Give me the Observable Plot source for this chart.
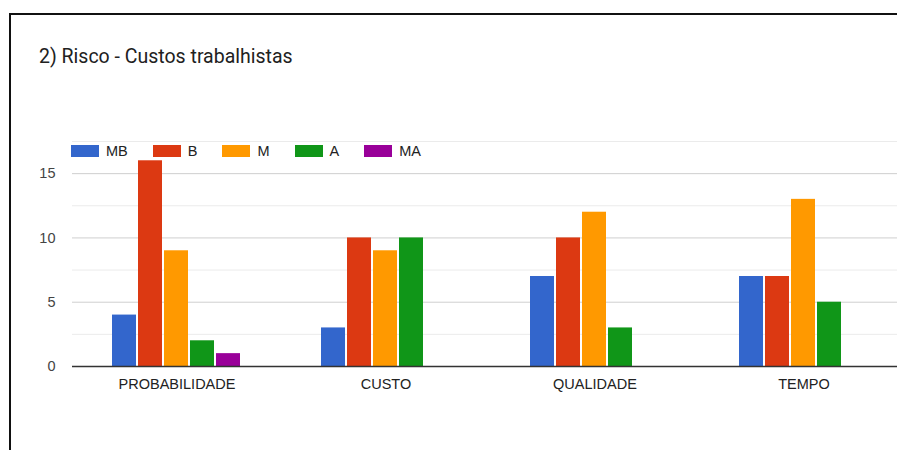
<!DOCTYPE html>
<html><head><meta charset="utf-8">
<script src="https://cdn.jsdelivr.net/npm/d3@7"></script>
<script src="https://cdn.jsdelivr.net/npm/@observablehq/plot@0.6"></script>
<style>
html,body{margin:0;padding:0;background:#fff;overflow:hidden;width:897px;height:450px}
#wrap{position:absolute;left:0;top:0;width:897px;height:450px;overflow:hidden}
#chart{position:absolute;left:0;top:0;width:897px;height:450px;overflow:hidden}
#frame{position:absolute;left:9px;top:13px;width:888px;height:437px;border-top:2px solid #111;border-left:2px solid #111;box-sizing:border-box;pointer-events:none}
#title{position:absolute;left:39px;top:45px;font-family:Roboto,sans-serif;font-size:19.5px;line-height:23px;color:#212121;white-space:nowrap}
#legend{position:absolute;left:71px;top:144px;height:13px;display:flex;align-items:center;font-family:"Liberation Sans",Arial,sans-serif;font-size:14.5px;color:#222}
#legend .item{display:flex;align-items:center;margin-right:25px}
#legend .sw{width:28px;height:12px;margin-right:7px}
</style></head>
<body>
<div id="wrap">
<div id="chart"></div>
<div id="title"></div>
<div id="legend"></div>
<div id="frame"></div>
</div>
<script>
const title = "2) Risco - Custos trabalhistas";
const categories = ["PROBABILIDADE", "CUSTO", "QUALIDADE", "TEMPO"];
const series = ["MB", "B", "M", "A", "MA"];
const colors = ["#3366cc", "#dc3912", "#ff9900", "#109618", "#990099"];
const MB = [4, 3, 7, 7];
const B  = [16, 10, 10, 7];
const M  = [9, 9, 12, 13];
const A  = [2, 10, 3, 5];
const MA = [1, 0, 0, 0];
const yTicks = [0, 5, 10, 15];
const majorGrid = [5, 10, 15];
const minorGrid = [2.5, 7.5, 12.5, 17.5];

const valuesBySeries = {MB, B, M, A, MA};
const rows = [];
categories.forEach((c, i) => series.forEach(s => {
  rows.push({category: c, series: s, value: valuesBySeries[s][i]});
}));

document.getElementById("title").textContent = title;
const legend = document.getElementById("legend");
series.forEach((s, i) => {
  const it = document.createElement("div"); it.className = "item";
  const sw = document.createElement("div"); sw.className = "sw"; sw.style.background = colors[i];
  const lb = document.createElement("span"); lb.textContent = s;
  it.appendChild(sw); it.appendChild(lb); legend.appendChild(it);
});

const chart = Plot.plot({
  width: 897,
  height: 450,
  marginLeft: 72,
  marginRight: -11,
  marginTop: 141,
  marginBottom: 84,
  style: {fontFamily: "'Liberation Sans', Arial, sans-serif", fontSize: "14.5px", background: "transparent", overflow: "hidden"},
  fx: {domain: categories, padding: 0, label: null},
  x: {domain: series, axis: null, paddingInner: 0.06, paddingOuter: 1.53},
  y: {domain: [0, 17.5], label: null},
  color: {domain: series, range: colors},
  marks: [
    Plot.ruleY(minorGrid, {stroke: "#ebebeb", strokeWidth: 1}),
    Plot.ruleY(majorGrid, {stroke: "#cfcfcf", strokeWidth: 1}),
    Plot.barY(rows.filter(d => d.value > 0), {fx: "category", x: "series", y: "value", fill: "series"}),
    Plot.ruleY([0], {stroke: "#333", strokeWidth: 1.5}),
    Plot.axisY({ticks: yTicks, tickSize: 0, tickPadding: 17, fill: "#444", label: null}),
    Plot.axisFx({anchor: "bottom", tickSize: 0, tickPadding: 12.5, fill: "#222", label: null})
  ]
});
document.getElementById("chart").appendChild(chart);
</script>
</body></html>
